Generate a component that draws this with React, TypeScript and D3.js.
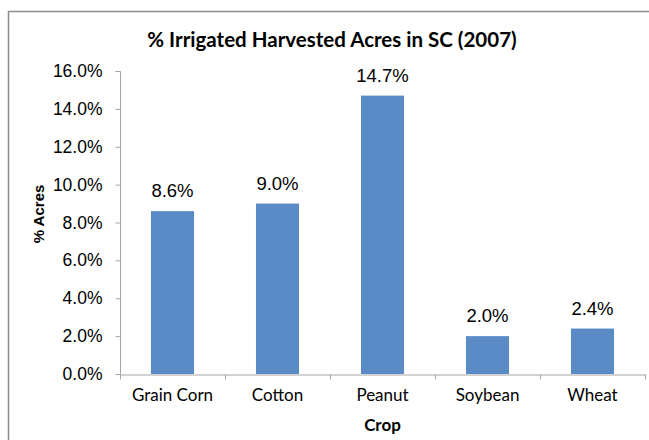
import * as d3 from "d3";
import { useEffect, useRef } from "react";

const crops = ["Grain Corn", "Cotton", "Peanut", "Soybean", "Wheat"];
const irrigatedPct = [8.6, 9.0, 14.7, 2.0, 2.4];
const yTicks = [0, 2, 4, 6, 8, 10, 12, 14, 16];

const width = 649;
const height = 440;
const marginLeft = 120;
const marginRight = 4;
const marginTop = 71;
const marginBottom = 66;

const arial = "'Liberation Sans', Arial, sans-serif";
const calibri = "Lato, 'Open Sans', sans-serif";

export default function App() {
  const ref = useRef<SVGSVGElement>(null);

  useEffect(() => {
    const svg = d3.select(ref.current);
    svg.selectAll("*").remove();

    const x = d3
      .scaleBand()
      .domain(crops)
      .range([marginLeft, width - marginRight])
      .paddingInner(0.59)
      .paddingOuter(0.295);
    const xAxisScale = d3
      .scaleBand()
      .domain(crops)
      .range([marginLeft, width - marginRight]);
    const y = d3.scaleLinear([0, 16], [height - marginBottom, marginTop]);

    // chart frame (cut off at right and bottom)
    svg
      .append("path")
      .attr("d", `M8.5,${height} V11.5 H${width}`)
      .attr("fill", "none")
      .attr("stroke", "#8c8c8c")
      .attr("stroke-width", 1.5);

    svg
      .append("text")
      .attr("x", 332)
      .attr("y", 47)
      .attr("text-anchor", "middle")
      .attr("font-family", calibri)
      .attr("font-weight", "bold")
      .attr("font-size", 20.5)
      .attr("fill", "#000")
      .text("% Irrigated Harvested Acres in SC (2007)");

    // y axis
    const yAxis = svg
      .append("g")
      .attr("transform", `translate(${marginLeft + 0.5},0)`)
      .call(
        d3
          .axisLeft(y)
          .tickValues(yTicks)
          .tickSize(5)
          .tickPadding(13)
          .tickFormat((d) => `${(+d).toFixed(1)}%`)
      );
    yAxis.select(".domain").attr("stroke", "#a6a6a6").attr("d", `M-5,${y(16) + 0.5}H0V${y(0)}`);
    yAxis.selectAll(".tick line").attr("stroke", "#a6a6a6");
    yAxis
      .selectAll(".tick text")
      .attr("font-family", arial)
      .attr("font-size", 17.5)
      .attr("fill", "#000");

    // x axis
    const xAxis = svg
      .append("g")
      .attr("transform", `translate(0,${height - marginBottom + 0.5})`)
      .call(d3.axisBottom(xAxisScale).tickSize(0).tickPadding(14));
    xAxis.select(".domain").attr("stroke", "#a6a6a6");
    xAxis.selectAll(".tick text").attr("font-family", calibri).attr("font-size", 17).attr("fill", "#000");
    xAxis
      .selectAll(".sep")
      .data(d3.range(crops.length + 1))
      .enter()
      .append("line")
      .attr("x1", (i) => marginLeft + 0.5 + i * xAxisScale.step())
      .attr("x2", (i) => marginLeft + 0.5 + i * xAxisScale.step())
      .attr("y1", 0)
      .attr("y2", 5)
      .attr("stroke", "#a6a6a6");

    // bars
    svg
      .selectAll("rect.bar")
      .data(irrigatedPct)
      .enter()
      .append("rect")
      .attr("class", "bar")
      .attr("x", (_, i) => x(crops[i])!)
      .attr("width", x.bandwidth())
      .attr("y", (d) => y(d))
      .attr("height", (d) => y(0) - y(d))
      .attr("fill", "#5b8bc6");

    svg
      .selectAll("text.lbl")
      .data(irrigatedPct)
      .enter()
      .append("text")
      .attr("class", "lbl")
      .attr("x", (_, i) => x(crops[i])! + x.bandwidth() / 2)
      .attr("y", (d) => y(d) - 14)
      .attr("text-anchor", "middle")
      .attr("font-family", arial)
      .attr("font-size", 18.5)
      .attr("fill", "#000")
      .text((d) => `${d.toFixed(1)}%`);

    // axis titles
    svg
      .append("text")
      .attr("x", (marginLeft + width - marginRight) / 2)
      .attr("y", 431)
      .attr("text-anchor", "middle")
      .attr("font-family", calibri)
      .attr("font-weight", "bold")
      .attr("font-size", 17)
      .attr("fill", "#000")
      .text("Crop");

    svg
      .append("text")
      .attr("transform", `translate(44,214) rotate(-90)`)
      .attr("text-anchor", "middle")
      .attr("font-family", arial)
      .attr("font-weight", "bold")
      .attr("font-size", 15)
      .attr("fill", "#000")
      .text("% Acres");
  }, []);

  return (
    <svg
      ref={ref}
      width={width}
      height={height}
      style={{ position: "absolute", left: 0, top: 0, background: "#fff" }}
    />
  );
}
